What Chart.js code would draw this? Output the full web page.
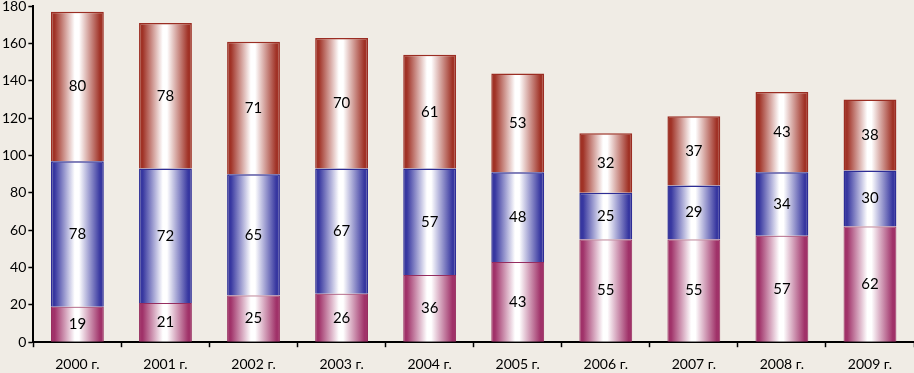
<!DOCTYPE html>
<html>
<head>
<meta charset="utf-8">
<script src="https://cdn.jsdelivr.net/npm/chart.js@4"></script>
<style>
  html, body { margin: 0; padding: 0; background: #f0ece5; overflow: hidden; }
  #wrap { width: 914px; height: 373px; }
</style>
</head>
<body>
<div id="wrap"><canvas id="mycanvas"></canvas></div>
<script>
var years = ["2000 г.", "2001 г.", "2002 г.", "2003 г.", "2004 г.", "2005 г.", "2006 г.", "2007 г.", "2008 г.", "2009 г."];
var lower = [19, 21, 25, 26, 36, 43, 55, 55, 57, 62];
var middle = [78, 72, 65, 67, 57, 48, 25, 29, 34, 30];
var upper = [80, 78, 71, 70, 61, 53, 32, 37, 43, 38];
var yTicks = [0, 20, 40, 60, 80, 100, 120, 140, 160, 180];

var BAR_PCT = 0.6;

// horizontal "cylinder" gradient: dark edges, white near the middle
function barGradient(rgb) {
	return function(context) {
		var chart = context.chart;
		var xs = chart.scales.x;
		if (!chart.chartArea || !xs || context.dataIndex === undefined) return "rgb(" + rgb + ")";
		var cx = xs.getPixelForValue(context.dataIndex);
		var w = (xs.width / years.length) * BAR_PCT;
		var g = chart.ctx.createLinearGradient(cx - w / 2, 0, cx + w / 2, 0);
		g.addColorStop(0, "rgb(" + rgb + ")");
		g.addColorStop(0.07, "rgb(" + rgb + ")");
		g.addColorStop(0.45, "rgb(255,255,255)");
		g.addColorStop(0.53, "rgb(255,255,255)");
		g.addColorStop(0.93, "rgb(" + rgb + ")");
		g.addColorStop(1, "rgb(" + rgb + ")");
		return g;
	};
}

var valueLabels = {
	id: "valueLabels",
	afterDatasetsDraw: function(chart) {
		var ctx = chart.ctx;
		ctx.save();
		ctx.fillStyle = "#000";
		ctx.font = "15px Lato, 'Open Sans', sans-serif";
		ctx.textAlign = "center";
		ctx.textBaseline = "middle";
		chart.data.datasets.forEach(function(ds, i) {
			chart.getDatasetMeta(i).data.forEach(function(bar, j) {
				var mid = (bar.y + bar.base) / 2;
				ctx.fillText(ds.data[j], bar.x, mid);
			});
		});
		ctx.restore();
	}
};

var chartdata = {
	labels: years,
	datasets: [
		{
			label: "lower",
			data: lower,
			backgroundColor: barGradient("160,50,105"),
			borderColor: "rgb(150,45,95)",
			borderWidth: 1,
			barPercentage: BAR_PCT,
			categoryPercentage: 1
		},
		{
			label: "middle",
			data: middle,
			backgroundColor: barGradient("55,55,160"),
			borderColor: "rgb(45,45,150)",
			borderWidth: 1.5,
			barPercentage: BAR_PCT,
			categoryPercentage: 1
		},
		{
			label: "upper",
			data: upper,
			backgroundColor: barGradient("160,50,38"),
			borderColor: "rgb(155,45,35)",
			borderWidth: 1.5,
			barPercentage: BAR_PCT,
			categoryPercentage: 1
		}
	]
};

var tickFont = { family: "Lato, 'Open Sans', sans-serif", size: 14 };

new Chart(document.getElementById("mycanvas"), {
	type: "bar",
	data: chartdata,
	plugins: [valueLabels],
	options: {
		responsive: true,
		maintainAspectRatio: false,
		animation: false,
		layout: { padding: { top: 5, right: 0, left: 0, bottom: -9 } },
		plugins: { legend: { display: false }, tooltip: { enabled: false } },
		scales: {
			x: {
				stacked: true,
				grid: { offset: true, drawOnChartArea: false, color: "#000", tickLength: 5, tickWidth: 1.5 },
				border: { color: "#000", width: 2 },
				ticks: { color: "#000", font: tickFont, padding: 9, maxRotation: 0 }
			},
			y: {
				stacked: true,
				min: 0,
				max: 180,
				afterBuildTicks: function(axis) {
					axis.ticks = yTicks.map(function(v) { return { value: v }; });
				},
				grid: { drawOnChartArea: false, color: "#000", tickLength: 5, tickWidth: 1.5 },
				border: { color: "#000", width: 2 },
				ticks: { color: "#000", font: { family: tickFont.family, size: 14, lineHeight: 0.6 }, padding: 2 }
			}
		}
	}
});
</script>
</body>
</html>
